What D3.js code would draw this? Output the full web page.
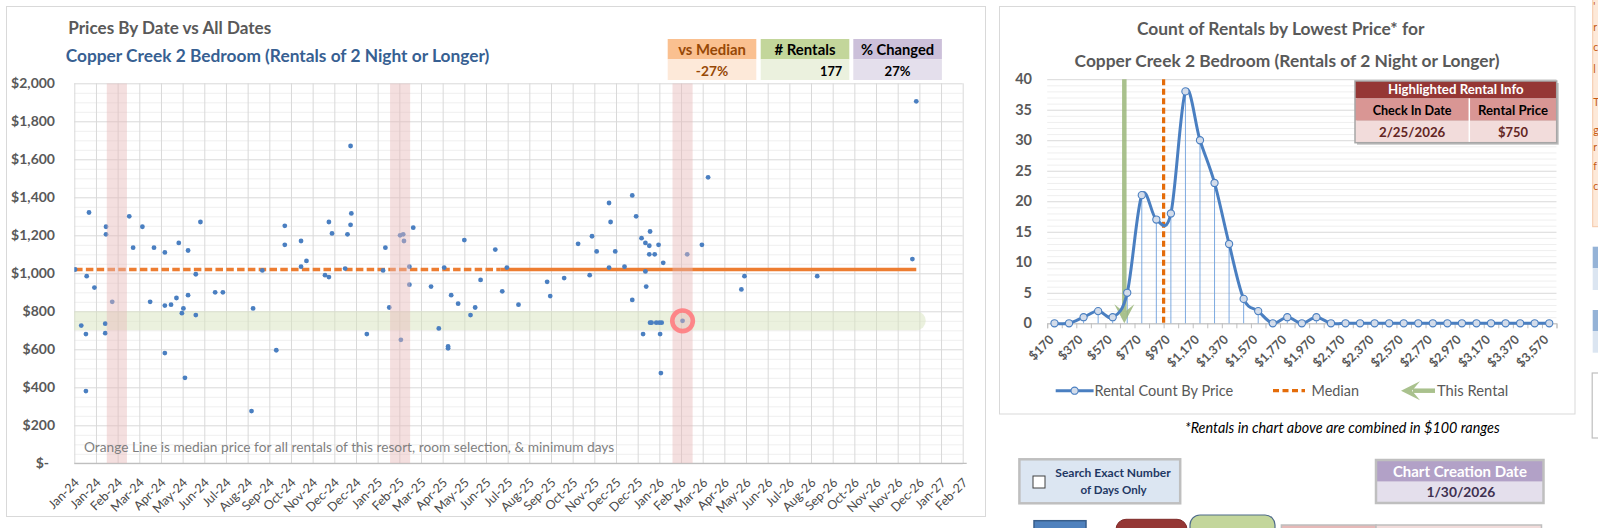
<!DOCTYPE html>
<html>
<head>
<meta charset="utf-8">
<title>Prices By Date vs All Dates</title>
<script src="https://cdn.jsdelivr.net/npm/d3@7"></script>
<style>
  body { margin: 0; background: #fff; }
  svg { display: block; }
  text { font-family: Lato, "Open Sans", "DejaVu Sans", sans-serif; }
</style>
</head>
<body>
<svg id="dashboard" width="1598" height="528"></svg>
<script>
// ---------- data ----------
// left chart: x axis ticks every 28 days from 1 Jan 2024
const axisStart = "2024-01-01";
const tickStepDays = 28;
const dateTickLabels = ["Jan-24","Jan-24","Feb-24","Mar-24","Apr-24","May-24","Jun-24","Jul-24","Aug-24","Sep-24",
  "Oct-24","Nov-24","Dec-24","Dec-24","Jan-25","Feb-25","Mar-25","Apr-25","May-25","Jun-25","Jul-25","Aug-25",
  "Sep-25","Oct-25","Nov-25","Dec-25","Dec-25","Jan-26","Feb-26","Mar-26","Apr-26","May-26","Jun-26","Jul-26",
  "Aug-26","Sep-26","Oct-26","Nov-26","Nov-26","Dec-26","Jan-27","Feb-27"];
const priceTicks = [0, 200, 400, 600, 800, 1000, 1200, 1400, 1600, 1800, 2000];

// [days after 1 Jan 2024, lowest price]
const rentals = [
  [1,1020],[9,725],[15,680],[15,380],[16,985],[19,1320],[26,925],[40,735],[40,685],[41,1245],
  [41,1205],[49,850],[71,1300],[76,1135],[88,1245],[98,850],[103,1135],[117,1110],[117,830],[117,580],
  [125,835],[132,870],[135,1160],[139,790],[141,815],[143,450],[147,1120],[147,885],[157,995],[157,780],
  [163,1270],[182,900],[192,900],[229,275],[231,815],[243,1015],[261,595],[272,1250],[272,1150],[293,1170],
  [293,1035],[300,1065],[324,990],[329,980],[329,1270],[333,1210],[350,1025],[353,1205],[357,1670],[357,1255],
  [358,1315],[378,680],[399,1015],[402,1135],[407,820],[421,1200],[422,650],[425,1205],[426,1170],[433,1035],
  [433,940],[438,1240],[461,930],[471,710],[478,1030],[483,615],[483,605],[487,885],[496,840],[504,1175],
  [512,780],[518,820],[525,965],[544,1125],[553,905],[559,1030],[574,835],[611,955],[615,880],[633,975],
  [651,1155],[666,990],[669,1195],[675,1115],[691,1370],[693,1270],[691,1030],[699,1115],[711,1035],[721,1410],
  [726,1300],[721,860],[733,1185],[738,1160],[743,1145],[743,1100],[738,1010],[739,930],[735,680],[744,1220],
  [744,740],[750,1100],[755,1150],[761,1055],[746,740],[752,740],[756,740],[759,740],[757,680],[758,475],
  [786,750],[792,1100],[811,1150],[819,1505],[862,915],[866,985],[960,985],[1083,1075],[1088,1905]
];
const medianPrice = 1020;
const medianSolidFromDay = 551;
const highlightDate = "2026-02-25";
const highlightPrice = 750;
const seasonBandDates = ["2024-02-25", "2025-02-25", "2026-02-25"];
const seasonBandHalfDays = 13;

const statLabels = ["vs Median", "# Rentals", "% Changed"];
const statValues = ["-27%", "177", "27%"];

// right chart: rentals counted in $100 ranges
const priceBins = ["$170","$270","$370","$470","$570","$670","$770","$870","$970","$1,070","$1,170","$1,270",
  "$1,370","$1,470","$1,570","$1,670","$1,770","$1,870","$1,970","$2,070","$2,170","$2,270","$2,370","$2,470",
  "$2,570","$2,670","$2,770","$2,870","$2,970","$3,070","$3,170","$3,270","$3,370","$3,470","$3,570"];
const binCounts = [0,0,1,2,1,5,21,17,18,38,30,23,13,4,2,0,1,0,1,0,0,0,0,0,0,0,0,0,0,0,0,0,0,0,0];
const countTicks = [0, 5, 10, 15, 20, 25, 30, 35, 40];
const firstBinPrice = 170;
const binWidth = 100;

const tableHeader = "Highlighted Rental Info";
const tableColumns = ["Check In Date", "Rental Price"];
const tableValues = ["2/25/2026", "$750"];
const creationLabel = "Chart Creation Date";
const creationDate = "1/30/2026";

// ---------- helpers ----------
const grey = "#595959";
const blue = "#4a7fc1";
const svg = d3.select("#dashboard");
const parse = d3.utcParse("%Y-%m-%d");
const day0 = parse(axisStart);
const dayToDate = d => d3.utcDay.offset(day0, d);

function fitText(sel, width) {
  const w = sel.node().getComputedTextLength();
  if (w > 0) sel.attr("font-size", parseFloat(sel.attr("font-size")) * width / w);
  return sel;
}
function label(g, x, y, str, size, o = {}) {
  const t = g.append("text").attr("x", x).attr("y", y).text(str)
    .attr("font-size", size).attr("fill", o.fill || grey)
    .attr("font-weight", o.weight || "normal")
    .attr("text-anchor", o.anchor || "start");
  if (o.italic) t.attr("font-style", "italic");
  if (o.width) fitText(t, o.width);
  return t;
}
function box(g, x, y, w, h, fill, stroke, sw) {
  return g.append("rect").attr("x", x).attr("y", y).attr("width", w).attr("height", h)
    .attr("fill", fill).attr("stroke", stroke || "none").attr("stroke-width", sw || 1);
}

// ---------- panels ----------
box(svg, 6.5, 6.5, 979, 510, "#fff", "#d9d9d9");
box(svg, 999.5, 6.5, 575.5, 407.5, "#fff", "#d9d9d9");

// ================= LEFT CHART =================
const L = { left: 74.3, right: 962.7, top: 83.3, bottom: 463.3 };
const tickDates = dateTickLabels.map((t, i) => dayToDate(i * tickStepDays));
const xL = d3.scaleUtc().domain([tickDates[0], tickDates[tickDates.length - 1]]).range([L.left, L.right]);
const yL = d3.scaleLinear().domain([0, 2000]).range([L.bottom, L.top]);

label(svg, 68.3, 34, "Prices By Date vs All Dates", 16, { weight: "bold", width: 203 });
label(svg, 65.7, 61.7, "Copper Creek 2 Bedroom (Rentals of 2 Night or Longer)", 16,
  { weight: "bold", fill: "#376092", width: 424 });

// stat boxes
const statX = [667.7, 760.7, 853.3], statW = 88.6;
const statHead = ["#fac090", "#c3d69b", "#ccc0da"];
const statBody = ["#fde9d9", "#ebf1de", "#e4dfec"];
const statInk = ["#974806", "#000", "#000"];
const statHeadW = [67.7, 61, 73.3], statValW = [32.3, 22.3, 26];
statLabels.forEach((s, i) => {
  box(svg, statX[i], 39, statW, 20.3, statHead[i]);
  box(svg, statX[i], 59.3, statW, 20.7, statBody[i]);
  label(svg, statX[i] + statW / 2, 55, s, 15, { weight: "bold", fill: statInk[i], anchor: "middle", width: statHeadW[i] });
  const right = i === 1;
  label(svg, right ? statX[i] + statW - 7 : statX[i] + statW / 2, 75.7, statValues[i], 14,
    { weight: "bold", fill: statInk[i], anchor: right ? "end" : "middle", width: statValW[i] });
});

// grid
svg.append("g").attr("transform", `translate(${L.left},0)`)
  .call(d3.axisLeft(yL).tickValues(d3.range(50, 2000, 50).filter(v => v % 200)).tickSize(-(L.right - L.left)).tickFormat(""))
  .call(g => g.select(".domain").remove())
  .call(g => g.selectAll("line").attr("stroke", "#efefef"));
svg.append("g").attr("transform", `translate(0,${L.bottom})`)
  .call(d3.axisBottom(xL).tickValues(tickDates).tickSize(-(L.bottom - L.top)).tickFormat(""))
  .call(g => g.select(".domain").remove())
  .call(g => g.selectAll("line").attr("stroke", "#d9d9d9"));
const gyL = svg.append("g").attr("transform", `translate(${L.left},0)`)
  .call(d3.axisLeft(yL).tickValues(priceTicks).tickSize(-(L.right - L.left)).tickPadding(19.3)
    .tickFormat(d => d ? d3.format("$,")(d) : "$-"));
gyL.select(".domain").remove();
gyL.selectAll("line").attr("stroke", "#d9d9d9");
gyL.selectAll("text").attr("font-size", 14).attr("font-weight", "bold").attr("fill", grey)
  .attr("font-family", null).attr("dx", d => d ? 0 : -6);
svg.append("line").attr("x1", L.left).attr("x2", L.right + 4).attr("y1", L.bottom).attr("y2", L.bottom)
  .attr("stroke", "#bfbfbf").attr("stroke-width", 1.2);

const gxL = svg.append("g").attr("transform", `translate(0,${L.bottom})`)
  .call(d3.axisBottom(xL).tickValues(tickDates).tickSize(0).tickFormat((d, i) => dateTickLabels[i]));
gxL.select(".domain").remove();
gxL.selectAll("text").attr("x", 0).attr("y", 0).attr("dy", "0.35em")
  .attr("transform", "translate(2,17) rotate(-45)").attr("text-anchor", "end")
  .attr("font-size", 12.5).attr("fill", "#4a4a4a").attr("font-family", null);

// clip for plot
svg.append("clipPath").attr("id", "plotL").append("rect")
  .attr("x", L.left).attr("y", L.top).attr("width", L.right - L.left).attr("height", L.bottom - L.top);
const plotL = svg.append("g").attr("clip-path", "url(#plotL)");

const [firstDay, lastDay] = d3.extent(rentals, d => d[0]);
// green band around highlighted price
plotL.append("line")
  .attr("x1", xL(dayToDate(firstDay))).attr("x2", xL(dayToDate(lastDay)))
  .attr("y1", yL(highlightPrice)).attr("y2", yL(highlightPrice))
  .attr("stroke", "#d7e4bd").attr("stroke-opacity", 0.5)
  .attr("stroke-width", yL(highlightPrice - 50) - yL(highlightPrice + 50)).attr("stroke-linecap", "round");

// median line: dashed then solid
plotL.append("line")
  .attr("x1", xL(dayToDate(firstDay))).attr("x2", xL(dayToDate(medianSolidFromDay)))
  .attr("y1", yL(medianPrice)).attr("y2", yL(medianPrice))
  .attr("stroke", "#ed7d31").attr("stroke-width", 3.3).attr("stroke-dasharray", "7.5,3.3");
plotL.append("line")
  .attr("x1", xL(dayToDate(medianSolidFromDay))).attr("x2", xL(dayToDate(lastDay)))
  .attr("y1", yL(medianPrice)).attr("y2", yL(medianPrice))
  .attr("stroke", "#ed7d31").attr("stroke-width", 3.3);

// rentals
plotL.append("g").selectAll("circle").data(rentals).join("circle")
  .attr("cx", d => xL(dayToDate(d[0]))).attr("cy", d => yL(d[1])).attr("r", 2.4).attr("fill", blue);

// season bands drawn over the points
plotL.append("g").selectAll("rect").data(seasonBandDates).join("rect")
  .attr("x", d => xL(d3.utcDay.offset(parse(d), -seasonBandHalfDays)))
  .attr("width", d => xL(d3.utcDay.offset(parse(d), seasonBandHalfDays)) - xL(d3.utcDay.offset(parse(d), -seasonBandHalfDays)))
  .attr("y", L.top).attr("height", L.bottom - L.top)
  .attr("fill", "#e6b9b8").attr("fill-opacity", 0.45);

// highlighted rental ring
svg.append("circle").attr("cx", xL(parse(highlightDate))).attr("cy", yL(highlightPrice)).attr("r", 10.3)
  .attr("fill", "none").attr("stroke", "#ff7c80").attr("stroke-width", 4.6).attr("stroke-opacity", 0.9);

label(svg, 84, 452.3, "Orange Line is median price for all rentals of this resort, room selection, & minimum days", 14,
  { fill: "#7f7f7f", width: 531 });

// ================= RIGHT CHART =================
const R = { left: 1047.2, right: 1556.5, top: 79.2, bottom: 323.3 };
const xR = d3.scaleBand().domain(priceBins).range([R.left, R.right]);
const bw = xR.bandwidth();
const cx = i => xR(priceBins[i]) + bw / 2;
const yR = d3.scaleLinear().domain([0, 40]).range([R.bottom, R.top]);
// a price sits at category (price - first)/width, counted from 1 like the sheet's scatter overlay
const priceX = d3.scaleLinear()
  .domain([firstBinPrice + binWidth, firstBinPrice + binWidth * priceBins.length])
  .range([cx(0), cx(priceBins.length - 1)]);

label(svg, 1137, 35, "Count of Rentals by Lowest Price* for", 16, { weight: "bold", width: 287.5 });
label(svg, 1074.6, 66.7, "Copper Creek 2 Bedroom (Rentals of 2 Night or Longer)", 16, { weight: "bold", width: 425 });

svg.append("g").attr("transform", `translate(${R.left},0)`)
  .call(d3.axisLeft(yR).tickValues(d3.range(1, 40).filter(v => v % 5)).tickSize(-(R.right - R.left)).tickFormat(""))
  .call(g => g.select(".domain").remove())
  .call(g => g.selectAll("line").attr("stroke", "#efefef"));
const gyR = svg.append("g").attr("transform", `translate(${R.left},0)`)
  .call(d3.axisLeft(yR).tickValues(countTicks).tickSize(-(R.right - R.left)).tickPadding(15.2));
gyR.select(".domain").remove();
gyR.selectAll("line").attr("stroke", "#d9d9d9");
gyR.selectAll("text").attr("font-size", 14.5).attr("font-weight", "bold").attr("fill", grey).attr("font-family", null);

// x axis line with boundary ticks
svg.append("g").attr("transform", `translate(0,${R.bottom})`)
  .call(d3.axisBottom(d3.scaleLinear().domain([0, priceBins.length]).range([R.left, R.right]))
    .tickValues(d3.range(0, priceBins.length + 1)).tickSize(5).tickFormat(""))
  .call(g => g.selectAll("line,path").attr("stroke", "#bfbfbf"));
const gxR = svg.append("g").attr("transform", `translate(0,${R.bottom})`)
  .call(d3.axisBottom(xR).tickValues(priceBins.filter((d, i) => i % 2 === 0)).tickSize(0));
gxR.select(".domain").remove();
gxR.selectAll("text").attr("x", 0).attr("y", 0).attr("dy", "0.35em")
  .attr("transform", "translate(-3,14) rotate(-45)").attr("text-anchor", "end")
  .attr("font-size", 12.5).attr("font-weight", "bold").attr("fill", grey).attr("font-family", null);

// drop lines
svg.append("g").selectAll("line").data(binCounts).join("line")
  .attr("x1", (d, i) => cx(i)).attr("x2", (d, i) => cx(i))
  .attr("y1", d => yR(d)).attr("y2", R.bottom)
  .attr("stroke", "#6fa0dc").attr("stroke-width", 0.9);

// median + this rental markers
const mx = priceX(medianPrice);
svg.append("line").attr("x1", mx).attr("x2", mx).attr("y1", R.top).attr("y2", R.bottom)
  .attr("stroke", "#e46c0a").attr("stroke-width", 3.2).attr("stroke-dasharray", "6,3.5");
const ax = priceX(highlightPrice);
const arrow = svg.append("g").attr("opacity", 0.85);
arrow.append("line").attr("x1", ax).attr("x2", ax).attr("y1", R.top).attr("y2", R.bottom - 11)
  .attr("stroke", "#9bb77a").attr("stroke-width", 4.5);
arrow.append("path")
  .attr("d", `M${ax},${R.bottom} L${ax - 10},${R.bottom - 19} L${ax},${R.bottom - 11} L${ax + 10},${R.bottom - 19} Z`)
  .attr("fill", "#9bb77a");

// smoothed count line
svg.append("path").datum(binCounts)
  .attr("d", d3.line().x((d, i) => cx(i)).y(d => yR(d)).curve(d3.curveCardinal.tension(0)))
  .attr("fill", "none").attr("stroke", blue).attr("stroke-width", 3);
svg.append("g").selectAll("circle").data(binCounts).join("circle")
  .attr("cx", (d, i) => cx(i)).attr("cy", d => yR(d)).attr("r", 3.6)
  .attr("fill", "#d3dcea").attr("stroke", blue).attr("stroke-width", 1.1);

// legend
const ly = 390.7;
svg.append("line").attr("x1", 1055.7).attr("x2", 1093.6).attr("y1", ly).attr("y2", ly).attr("stroke", blue).attr("stroke-width", 3);
svg.append("circle").attr("cx", 1074.6).attr("cy", ly).attr("r", 3.6).attr("fill", "#d3dcea").attr("stroke", blue).attr("stroke-width", 1.1);
label(svg, 1094.5, ly + 5, "Rental Count By Price", 15, { width: 139 });
svg.append("line").attr("x1", 1273).attr("x2", 1305).attr("y1", ly).attr("y2", ly)
  .attr("stroke", "#e46c0a").attr("stroke-width", 3.2).attr("stroke-dasharray", "6,3.5");
label(svg, 1311.5, ly + 5, "Median", 15, { width: 47.5 });
const la = svg.append("g").attr("opacity", 0.85);
la.append("line").attr("x1", 1413).attr("x2", 1435).attr("y1", ly).attr("y2", ly).attr("stroke", "#9bb77a").attr("stroke-width", 4.5);
la.append("path").attr("d", `M1401,${ly} L1420,${ly - 9.5} L1412,${ly} L1420,${ly + 9.5} Z`).attr("fill", "#9bb77a");
label(svg, 1437, ly + 5, "This Rental", 15, { width: 71.3 });

// highlighted rental table
const T = { x: 1355, split: 1469.3, right: 1556.7, rows: [81, 98.3, 120.7, 142.7] };
svg.append("rect").attr("x", T.x + 2).attr("y", T.rows[0] + 2).attr("width", T.right - T.x).attr("height", T.rows[3] - T.rows[0])
  .attr("fill", "#bfbfbf");
box(svg, T.x, T.rows[0], T.right - T.x, T.rows[1] - T.rows[0], "#953735");
box(svg, T.x, T.rows[1], T.right - T.x, T.rows[2] - T.rows[1], "#d99694");
box(svg, T.x, T.rows[2], T.right - T.x, T.rows[3] - T.rows[2], "#f2dcdb");
svg.append("line").attr("x1", T.split).attr("x2", T.split).attr("y1", T.rows[1]).attr("y2", T.rows[3]).attr("stroke", "#ffffff").attr("stroke-width", 1.5);
box(svg, T.x, T.rows[0], T.right - T.x, T.rows[3] - T.rows[0], "none", "#a6a6a6", 1.5);
label(svg, (T.x + T.right) / 2, 94, tableHeader, 14, { weight: "bold", fill: "#fff", anchor: "middle", width: 135.7 });
const colMid = [(T.x + T.split) / 2, (T.split + T.right) / 2];
const colW = [79, 70], valW = [66.4, 30];
tableColumns.forEach((c, i) => {
  label(svg, colMid[i], 115, c, 14, { weight: "bold", fill: "#000", anchor: "middle", width: colW[i] });
  label(svg, colMid[i], 136.7, tableValues[i], 14, { weight: "bold", fill: "#632523", anchor: "middle", width: valW[i] });
});

label(svg, 1185, 433, "*Rentals in chart above are combined in $100 ranges", 14, { italic: true, fill: "#000", width: 315 });

// ================= BOTTOM CONTROLS =================
box(svg, 1019.4, 459.3, 160.8, 44, "#dce6f2", "#bfbfbf", 2.5);
box(svg, 1033, 476, 12, 12, "#fff", "#404040", 1);
label(svg, 1113, 477.3, "Search Exact Number", 12, { weight: "bold", fill: "#1f3864", anchor: "middle", width: 115.4 });
label(svg, 1113.6, 494, "of Days Only", 12, { weight: "bold", fill: "#1f3864", anchor: "middle", width: 66.2 });

box(svg, 1376, 460.7, 167.5, 21, "#b2a1c7");
box(svg, 1376, 481.7, 167.5, 20.6, "#e4dfec");
box(svg, 1376, 460, 167.5, 43, "none", "#bfbfbf", 2.5);
label(svg, 1459.9, 476.5, creationLabel, 15, { weight: "bold", fill: "#fff", anchor: "middle", width: 134 });
label(svg, 1460.9, 497, creationDate, 15, { weight: "bold", fill: "#403151", anchor: "middle", width: 69 });

box(svg, 1034, 520.7, 52, 20, "#4f81bd", "#385d8a", 1.5);
svg.append("rect").attr("x", 1116).attr("y", 519.3).attr("width", 71).attr("height", 30).attr("rx", 10)
  .attr("fill", "#953735").attr("stroke", "#7f2b2a");
svg.append("rect").attr("x", 1190).attr("y", 515).attr("width", 85).attr("height", 30).attr("rx", 10)
  .attr("fill", "#c3d69b").attr("stroke", "#4f6b8a").attr("stroke-width", 1.2);
box(svg, 1281.4, 525, 94.6, 10, "#e6b9b8", "#bfbfbf", 1.5);
box(svg, 1376, 525, 165.5, 10, "#f2dcdb", "#bfbfbf", 1.5);

// ================= RIGHT EDGE (cut off) =================
box(svg, 1592.7, -1, 8, 227.7, "#fde9d9", "#f4c7a8", 1);
const edgeText = [["'", 10], ["r", 31], ["c", 51], ["l", 72.5], ["T", 106], ["g", 134], ["r", 151], ["f", 169.5], ["c", 189.5]];
edgeText.forEach(([s, yy]) => label(svg, 1593.2, yy, s, 10.5, { fill: "#c55a11" }));
box(svg, 1592.7, 246.7, 8, 21.6, "#95b3d7");
box(svg, 1592.7, 268.3, 8, 21.7, "#dbe5f1");
box(svg, 1592.7, 310, 8, 21, "#95b3d7");
box(svg, 1592.7, 331, 8, 21.7, "#dbe5f1");
box(svg, 1592.2, 373, 10, 65, "#fff", "#bfbfbf", 1.2);
</script>
</body>
</html>
